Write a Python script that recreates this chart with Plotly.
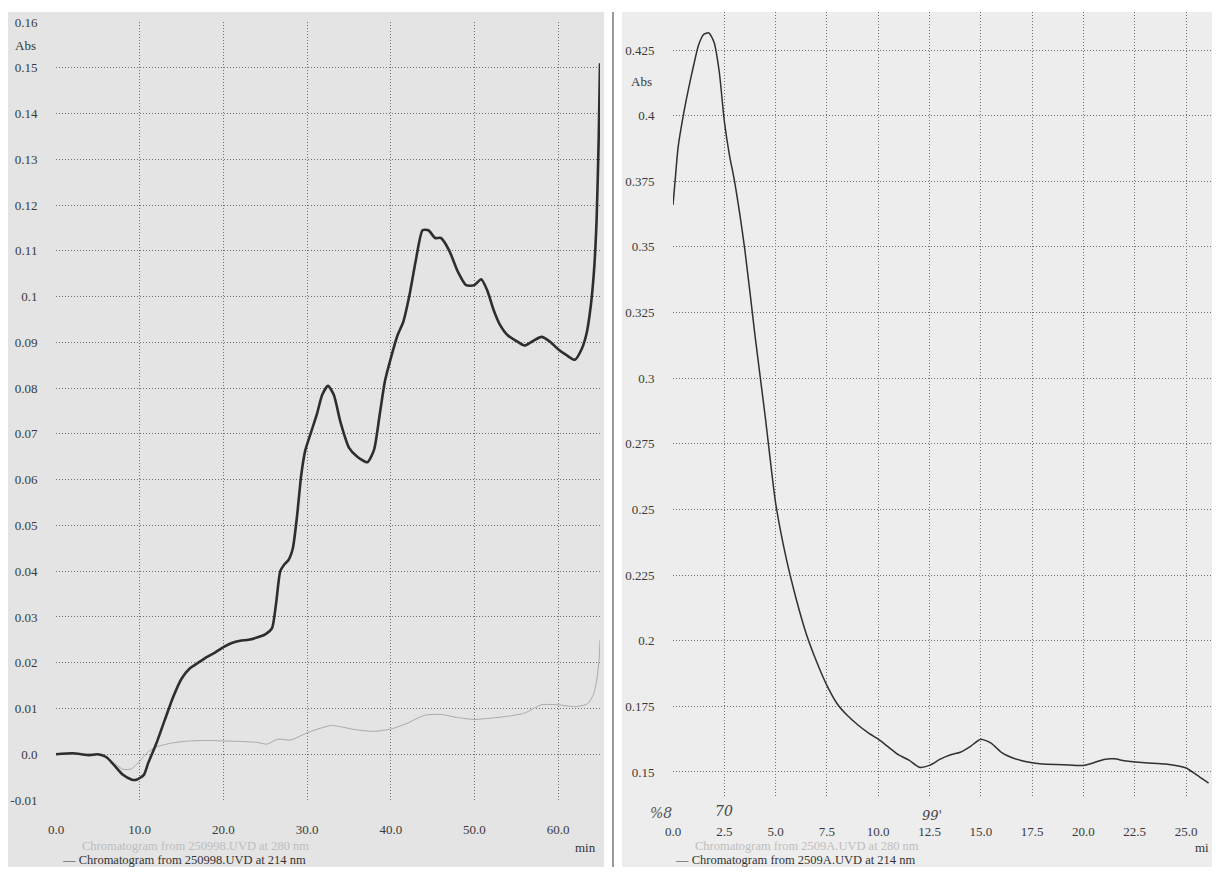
import plotly.graph_objects as go

# ---------------- data ----------------
# Left chromatogram (250998.UVD)
left_t_214 = [0, 2, 4, 5, 6, 7, 8, 9, 9.6, 10.5, 11, 12, 13, 14, 15, 16, 17, 18, 19, 20,
              21, 22, 23, 24, 25, 25.8, 26.3, 26.8, 27.3, 27.8, 28.3, 28.8, 29.3, 29.8,
              30.5, 31.2, 31.8, 32.5, 33.2, 34, 35, 36, 37.2, 38, 38.7, 39.3, 40, 40.8,
              41.5, 42.2, 43, 43.8, 44.5, 45.3, 46, 47, 48, 49, 50, 50.8, 51.5, 52.3, 53,
              54, 55, 56, 57, 58, 59, 60, 61, 62, 62.8, 63.4, 63.9, 64.3, 64.6, 64.85, 65]
left_v_214 = [0.0, 0.0002, -0.0002, 0.0, -0.0006, -0.0025, -0.0045, -0.0055, -0.0056, -0.0045,
              -0.002, 0.0024, 0.0075, 0.0125, 0.0165, 0.0188, 0.0200, 0.0212, 0.0222, 0.0234,
              0.0243, 0.0248, 0.0250, 0.0255, 0.0262, 0.0275, 0.033, 0.040, 0.0415, 0.0425,
              0.045, 0.052, 0.061, 0.0665, 0.0705, 0.0745, 0.0785, 0.0805, 0.0785, 0.0725,
              0.067, 0.065, 0.0638, 0.0665, 0.0745, 0.0815, 0.0865, 0.0915, 0.0945, 0.100,
              0.108, 0.1145, 0.1145, 0.1128, 0.1128, 0.110, 0.1055, 0.1025, 0.1025, 0.1038,
              0.1015, 0.097, 0.094, 0.0915, 0.0903, 0.0893, 0.0903, 0.0912, 0.0902, 0.0885,
              0.0872, 0.0862, 0.0885, 0.092, 0.098, 0.106, 0.117, 0.135, 0.151]

left_t_280 = [0, 3, 5, 6, 7, 8, 9, 10, 11, 12, 14, 16, 18, 20, 22, 24, 25.2, 26.5, 28, 30.3,
              32.9, 34, 36, 38, 40, 42, 44, 46, 48, 50, 52, 54, 56, 58, 60, 62, 63.5, 64.2,
              64.6, 64.9, 65]
left_v_280 = [0.0, 0.0, 0.0, -0.0007, -0.002, -0.0033, -0.0032, -0.0015, 0.0005, 0.0016,
              0.0025, 0.0029, 0.0030, 0.0029, 0.0028, 0.0026, 0.0022, 0.0033, 0.0031, 0.0049,
              0.0063, 0.0060, 0.0053, 0.0050, 0.0055, 0.0068, 0.0085, 0.0087, 0.0080, 0.0076,
              0.0079, 0.0083, 0.0090, 0.0108, 0.0108, 0.0104, 0.0110, 0.0130, 0.0160, 0.0210,
              0.0250]

# Right chromatogram (2509A.UVD)
right_t_214 = [0, 0.1, 0.25, 0.5, 0.75, 1.0, 1.25, 1.5, 1.75, 2.0, 2.25, 2.5, 2.75, 3.0, 3.5,
               4.0, 4.5, 5.0, 5.5, 6.0, 6.5, 7.0, 7.5, 8.0, 8.5, 9.0, 9.5, 10, 10.5, 11, 11.5,
               12, 12.5, 13, 13.5, 14, 14.5, 15, 15.5, 16, 16.5, 17, 17.5, 18, 19, 20, 20.5,
               21, 21.5, 22, 23, 24, 25, 25.5, 26.1]
right_v_214 = [0.366, 0.375, 0.388, 0.400, 0.410, 0.419, 0.427, 0.431, 0.4315, 0.428, 0.417,
               0.398, 0.385, 0.375, 0.349, 0.316, 0.285, 0.2525, 0.232, 0.216, 0.2025, 0.192,
               0.183, 0.176, 0.1715, 0.168, 0.165, 0.1625, 0.1595, 0.1565, 0.1545, 0.1518,
               0.1525, 0.1548, 0.1565, 0.1575, 0.1598, 0.1625, 0.161, 0.1575, 0.1555, 0.1543,
               0.1535, 0.153, 0.1528, 0.1525, 0.1535, 0.1548, 0.155, 0.1543, 0.1535, 0.153,
               0.1515, 0.149, 0.1458]

# tick labels
left_xtick_vals = [0, 10, 20, 30, 40, 50, 60]
left_xtick_text = ["0.0", "10.0", "20.0", "30.0", "40.0", "50.0", "60.0"]
left_ytick_vals = [0.16, 0.15, 0.14, 0.13, 0.12, 0.11, 0.10, 0.09, 0.08, 0.07, 0.06, 0.05,
                   0.04, 0.03, 0.02, 0.01, 0.0, -0.01]
left_ytick_text = ["0.16", "0.15", "0.14", "0.13", "0.12", "0.11", "0.1", "0.09", "0.08",
                   "0.07", "0.06", "0.05", "0.04", "0.03", "0.02", "0.01", "0.0", "-0.01"]
right_xtick_vals = [0, 2.5, 5, 7.5, 10, 12.5, 15, 17.5, 20, 22.5, 25]
right_xtick_text = ["0.0", "2.5", "5.0", "7.5", "10.0", "12.5", "15.0", "17.5", "20.0",
                    "22.5", "25.0"]
right_ytick_vals = [0.425, 0.4, 0.375, 0.35, 0.325, 0.3, 0.275, 0.25, 0.225, 0.2, 0.175, 0.15]
right_ytick_text = ["0.425", "0.4", "0.375", "0.35", "0.325", "0.3", "0.275", "0.25",
                    "0.225", "0.2", "0.175", "0.15"]

# ---------------- figure ----------------
# page body keeps its default 8px margin, so the figure is 16px smaller than the window
OFF = 8
W, H = 1220 - 2 * OFF, 875 - 2 * OFF
FONT = "Liberation Serif"
GRID = "#6e6e6e"


def px(x):
    """window x pixel -> paper fraction"""
    return (x - OFF) / W


def py(y):
    """window y pixel -> paper fraction"""
    return 1 - (y - OFF) / H


fig = go.Figure()

fig.add_trace(go.Scatter(x=left_t_280, y=left_v_280, mode="lines",
                         line=dict(color="#a9a9a9", width=1, shape="spline", smoothing=0.6),
                         xaxis="x", yaxis="y", hoverinfo="skip"))
fig.add_trace(go.Scatter(x=left_t_214, y=left_v_214, mode="lines",
                         line=dict(color="#2e2e2e", width=2.6, shape="spline", smoothing=0.6),
                         xaxis="x", yaxis="y", hoverinfo="skip"))
fig.add_trace(go.Scatter(x=right_t_214, y=right_v_214, mode="lines",
                         line=dict(color="#303030", width=1.5, shape="spline", smoothing=0.6),
                         xaxis="x2", yaxis="y2", hoverinfo="skip"))

axis_common = dict(showline=False, zeroline=False, showgrid=True, gridcolor=GRID,
                   gridwidth=1, griddash="1px,2px", ticks="outside",
                   tickcolor="rgba(0,0,0,0)", automargin=False,
                   tickfont=dict(family=FONT, size=13, color="#3a3a3a"), fixedrange=True)

right_x_end = (1220 - OFF - 673) / 20.52

fig.update_layout(
    width=W, height=H, autosize=False,
    margin=dict(l=0, r=0, t=0, b=0),
    paper_bgcolor="white", plot_bgcolor="rgba(0,0,0,0)",
    showlegend=False,
    xaxis=dict(domain=[px(56), px(600)], range=[0, 65], tickmode="array",
               tickvals=left_xtick_vals, ticktext=left_xtick_text, ticklen=17,
               anchor="y", **axis_common),
    yaxis=dict(domain=[py(800), py(22)], range=[-0.01, 0.16], tickmode="array",
               tickvals=left_ytick_vals, ticktext=left_ytick_text, ticklen=15,
               anchor="x", **axis_common),
    xaxis2=dict(domain=[px(673), 1.0], range=[0, right_x_end], tickmode="array",
                tickvals=right_xtick_vals, ticktext=right_xtick_text, ticklen=22,
                anchor="y2", **axis_common),
    yaxis2=dict(domain=[py(797), py(12)], range=[0.15 - 25 / 2624, 0.425 + 38 / 2624],
                tickmode="array", tickvals=right_ytick_vals, ticktext=right_ytick_text,
                ticklen=15, anchor="x2", **axis_common),
)

# scanned-paper backgrounds and separator
fig.add_shape(type="rect", xref="paper", yref="paper", x0=0, x1=px(604), y0=0, y1=py(12),
              fillcolor="#e4e4e4", line=dict(width=0), layer="below")
fig.add_shape(type="rect", xref="paper", yref="paper", x0=px(622), x1=1, y0=0, y1=py(12),
              fillcolor="#ededed", line=dict(width=0), layer="below")
fig.add_shape(type="line", xref="paper", yref="paper", x0=px(613), x1=px(613), y0=0, y1=py(12),
              line=dict(color="#9a9a9a", width=2), layer="below")


def note(text, x, y, color="#333333", size=13, xanchor="center", family=FONT):
    fig.add_annotation(text=text, x=px(x), y=py(y), xref="paper", yref="paper",
                       showarrow=False, xanchor=xanchor, yanchor="middle",
                       font=dict(family=family, size=size, color=color))


note("Abs", 25, 45)
note("Abs", 641, 82)
note("min", 585, 847)
note("mi", 1211, 847, xanchor="right")
note("Chromatogram from 250998.UVD at 280 nm", 80, 846, color="#bdbdbd", size=12.5,
     xanchor="left")
note("— Chromatogram from 250998.UVD at 214 nm", 60, 860, size=12.5, xanchor="left")
note("Chromatogram from 2509A.UVD at 280 nm", 693, 846, color="#bdbdbd", size=12.5,
     xanchor="left")
note("— Chromatogram from 2509A.UVD at 214 nm", 673, 860, size=12.5, xanchor="left")
# handwritten marks
note("<i>%8</i>", 661, 813, color="#555555", size=14, family="DejaVu Serif")
note("<i>70</i>", 724, 811, color="#444444", size=14, family="DejaVu Serif")
note("<i>99'</i>", 932, 815, color="#444444", size=13, family="DejaVu Serif")

fig.write_html("out.html", config={"displayModeBar": False})
